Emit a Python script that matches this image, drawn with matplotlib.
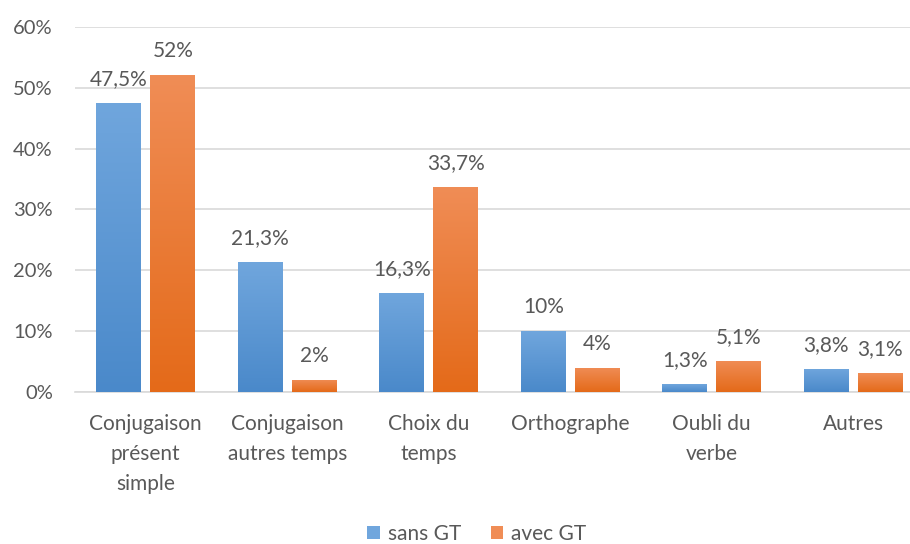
import numpy as np
import matplotlib
matplotlib.use("Agg")
import matplotlib.pyplot as plt
from matplotlib.colors import LinearSegmentedColormap
from matplotlib.patches import Patch

# Error categories and percentages for each group
categories = ["Conjugaison\nprésent\nsimple", "Conjugaison\nautres temps",
              "Choix du\ntemps", "Orthographe", "Oubli du\nverbe", "Autres"]
sans_gt = [47.5, 21.3, 16.3, 10, 1.3, 3.8]
avec_gt = [52, 2, 33.7, 4, 5.1, 3.1]
sans_labels = ["47,5%", "21,3%", "16,3%", "10%", "1,3%", "3,8%"]
avec_labels = ["52%", "2%", "33,7%", "4%", "5,1%", "3,1%"]
series_names = ["sans GT", "avec GT"]
yticks = [0, 10, 20, 30, 40, 50, 60]

TEXT = "#595959"
GRID = "#D9D9D9"
BLUE = ("#4A89CA", "#70A6DD")     # bottom, top
ORANGE = ("#E46A19", "#F08D56")

plt.rcParams["font.family"] = ["Lato", "DejaVu Sans"]

fig = plt.figure(figsize=(9.10, 5.44), dpi=100)
ax = fig.add_axes([75 / 910, 0.279, 849 / 910, 0.672])

x = np.arange(len(categories))
width = 0.318
offset = 0.191


def gradient_bars(xpos, values, colors):
    # plain bar first, then a vertical gradient clipped to each bar
    cmap = LinearSegmentedColormap.from_list("grad", list(colors))
    grad = np.linspace(0, 1, 256).reshape(-1, 1)
    bars = ax.bar(xpos, values, width, color=colors[0], zorder=2)
    for bar in bars:
        x0, y0 = bar.get_x(), bar.get_y()
        w, h = bar.get_width(), bar.get_height()
        im = ax.imshow(grad, cmap=cmap, origin="lower", aspect="auto",
                       extent=(x0, x0 + w, y0, y0 + h), zorder=3)
        im.set_clip_path(bar)
    return bars


gradient_bars(x - offset, sans_gt, BLUE)
gradient_bars(x + offset, avec_gt, ORANGE)

for xi, v, lab in zip(x - offset, sans_gt, sans_labels):
    ax.text(xi, v + 2.95, lab, ha="center", va="baseline", fontsize=15, color=TEXT)
for xi, v, lab in zip(x + offset, avec_gt, avec_labels):
    ax.text(xi, v + 2.95, lab, ha="center", va="baseline", fontsize=15, color=TEXT)

ax.set_xlim(-0.5, 5.5)
ax.set_ylim(0, 60)
ax.set_yticks(yticks)
ax.set_yticklabels([f"{t}%" for t in yticks])
ax.set_xticks(x)
ax.set_xticklabels(categories, linespacing=1.62, fontsize=15)
ax.tick_params(axis="both", length=0, colors=TEXT)
ax.tick_params(axis="y", labelsize=14.5, pad=16)
ax.tick_params(axis="x", pad=16)
ax.grid(axis="y", color=GRID, linewidth=1.2, zorder=0)
ax.set_axisbelow(True)
for side in ["top", "right", "left"]:
    ax.spines[side].set_visible(False)
ax.spines["bottom"].set_color(GRID)
ax.spines["bottom"].set_linewidth(1.2)

handles = [Patch(facecolor=BLUE[1], edgecolor="none"),
           Patch(facecolor=ORANGE[1], edgecolor="none")]
fig.legend(handles, series_names, loc="center", bbox_to_anchor=(477 / 910, 1 - 534 / 544),
           ncol=2, frameon=False, fontsize=15, labelcolor=TEXT,
           handlelength=0.6, handleheight=0.6, handletextpad=0.4, columnspacing=1.4)

fig.savefig("out.png", dpi=100)
